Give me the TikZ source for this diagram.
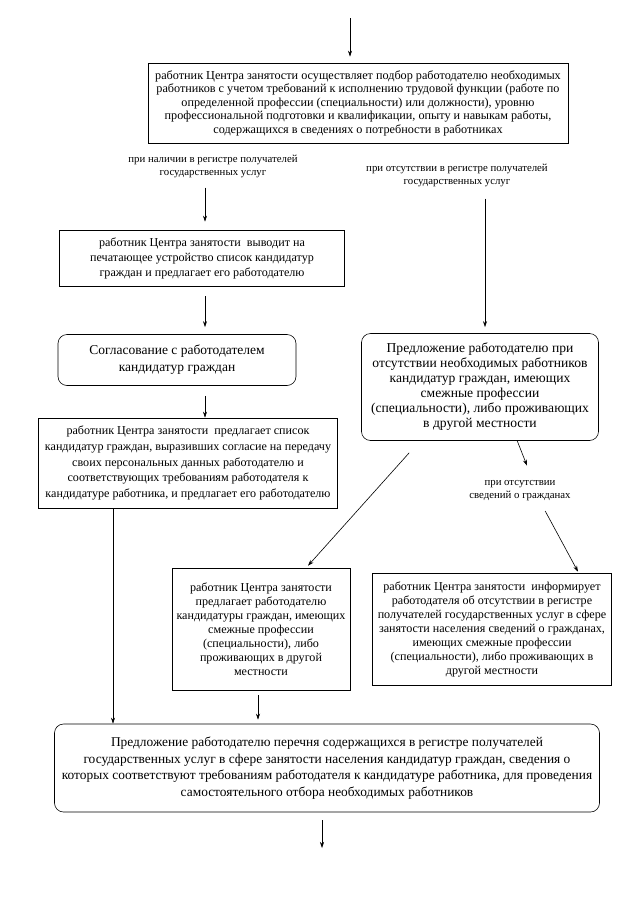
\documentclass[tikz,border=0pt]{standalone}
\usepackage{fontspec}
\setmainfont{Liberation Serif}
\usetikzlibrary{arrows.meta,calc}

\tikzset{
  box/.style={draw, line width=0.6pt, align=center, inner sep=0pt,
    font=\fontsize{12.1}{14}\selectfont},
  rbox/.style={box, rounded corners=9pt, font=\fontsize{13.5}{16}\selectfont},
  cond/.style={align=center, inner sep=0pt, font=\fontsize{10.8}{13}\selectfont},
  arr/.style={-{Stealth[length=6pt,width=4pt]}, line width=0.6pt},
}

\begin{document}
\begin{tikzpicture}[x=1pt,y=-1pt]
  \useasboundingbox (0,0) rectangle (640,905);

  %%%%% BOXES %%%%%
  \coordinate (in) at (350,18);
  \node[box, minimum width=420pt, minimum height=80pt,
    font=\fontsize{12.2}{13.5}\selectfont] (select) at (358,103)
    {работник Центра занятости осуществляет подбор работодателю необходимых\\
     работников с учетом требований к исполнению трудовой функции (работе по\\
     определенной профессии (специальности) или должности), уровню\\
     профессиональной подготовки и квалификации, опыту и навыкам работы,\\
     содержащихся в сведениях о потребности в работниках};

  \node[cond] (present) at (213,166)
    {при наличии в регистре получателей\\ государственных услуг};
  \node[cond] (absent) at (457,175)
    {при отсутствии в регистре получателей\\ государственных услуг};

  \coordinate (col) at (205,0);
  \coordinate (rcol) at (485,0);
  \coordinate (lcol) at (113,0);
  \coordinate (mcol) at (258,0);

  \node[box, minimum width=285pt, minimum height=56pt,
    font=\fontsize{12.1}{15}\selectfont] (print) at (202,258)
    {работник Центра занятости\ \ выводит на\\
     печатающее устройство список кандидатур\\
     граждан и предлагает его работодателю};

  \node[rbox, minimum width=238pt, minimum height=51pt,
    font=\fontsize{13.5}{17}\selectfont] (agree) at (177,360)
    {Согласование с работодателем\\ кандидатур граждан};

  \node[rbox, minimum width=237pt, minimum height=107pt,
    font=\fontsize{13.6}{15}\selectfont] (offer) at (480,387)
    {Предложение работодателю при\\
     отсутствии необходимых работников\\
     кандидатур граждан, имеющих\\
     смежные профессии\\
     (специальности), либо проживающих\\
     в другой местности};

  \node[box, minimum width=299pt, minimum height=90pt,
    font=\fontsize{12.1}{15.8}\selectfont] (list) at (188,463)
    {работник Центра занятости\ \ предлагает список\\
     кандидатур граждан, выразивших согласие на передачу\\
     своих персональных данных работодателю и\\
     соответствующих требованиям работодателя к\\
     кандидатуре работника, и предлагает его работодателю};

  \node[cond] (nodata) at (520,491)
    {при отсутствии\\ сведений о гражданах};

  \node[box, minimum width=178pt, minimum height=122pt] (relocate) at (261,629)
    {работник Центра занятости\\
     предлагает работодателю\\
     кандидатуры граждан, имеющих\\
     смежные профессии\\
     (специальности), либо\\
     проживающих в другой\\
     местности};

  \node[box, minimum width=239pt, minimum height=112pt] (inform) at (492,629)
    {работник Центра занятости\ \ информирует\\
     работодателя об отсутствии в регистре\\
     получателей государственных услуг в сфере\\
     занятости населения сведений о гражданах,\\
     имеющих смежные профессии\\
     (специальности), либо проживающих в\\
     другой местности};

  \node[rbox, minimum width=545pt, minimum height=88pt,
    font=\fontsize{13.4}{16.5}\selectfont] (final) at (327,768)
    {Предложение работодателю перечня содержащихся в регистре получателей\\
     государственных услуг в сфере занятости населения кандидатур граждан, сведения о\\
     которых соответствуют требованиям работодателя к кандидатуре работника, для проведения\\
     самостоятельного отбора необходимых работников};
  \coordinate (out) at (322,848);

  %%%%% ARROWS %%%%%
  \draw[arr, shorten >=6pt] (in) -- (in |- select.north);
  \draw[arr, shorten <=10pt, shorten >=8pt] (present.south -| col) -- (print.north -| col);
  \draw[arr, shorten <=10pt, shorten >=7pt] (print.south -| col) -- (agree.north -| col);
  \draw[arr, shorten <=12pt, shorten >=6pt] (absent.south -| rcol) -- (offer.north -| rcol);
  \draw[arr, shorten <=10pt] (agree.south -| col) -- (list.north -| col);
  \draw[arr] (list.south -| lcol) -- (final.north -| lcol);
  \draw[arr] ($(offer.south west)+(48,12)$) -- ($(relocate.north)+(47,-2)$);
  \draw[arr] ($(offer.south west)+(156,0)$) -- ($(nodata.north)+(7,-15)$);
  \draw[arr, shorten <=11pt] ($(nodata.south)+(20,0)$) -- ($(inform.north)+(86,-1)$);
  \draw[arr, shorten <=5pt, shorten >=4pt] (relocate.south -| mcol) -- (final.north -| mcol);
  \draw[arr, shorten <=8pt] (final.south -| out) -- (out);
\end{tikzpicture}
\end{document}
